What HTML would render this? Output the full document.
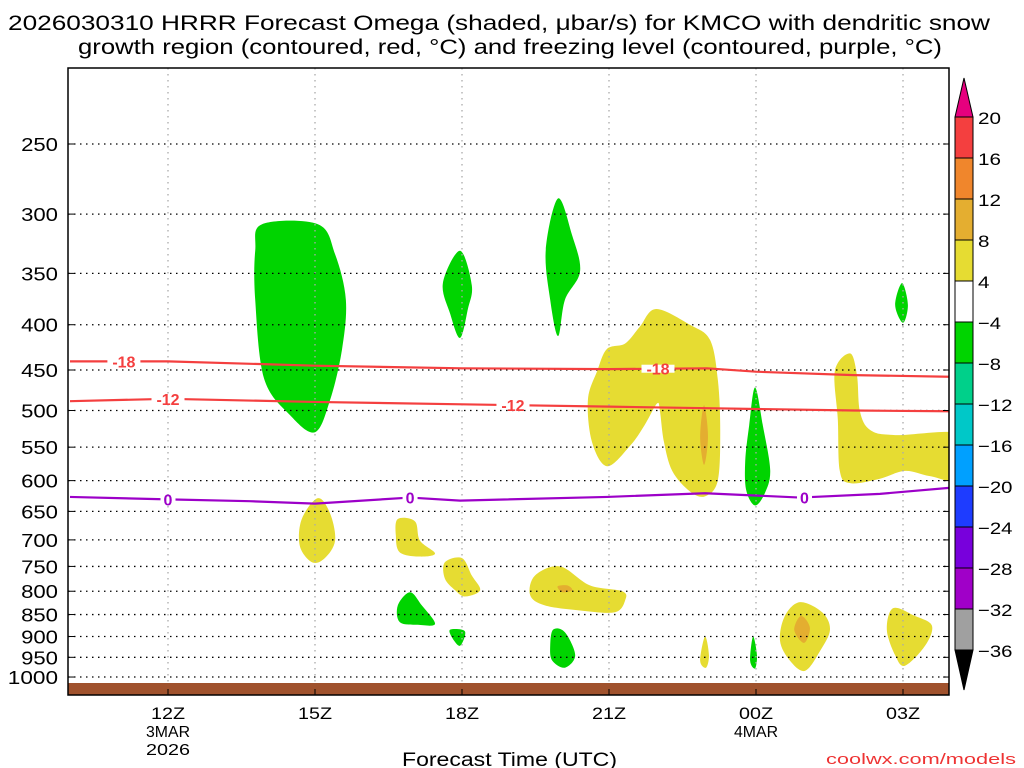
<!DOCTYPE html>
<html><head><meta charset="utf-8"><style>
html,body{margin:0;padding:0;background:#fff;width:1024px;height:768px;overflow:hidden}
svg{display:block;font-family:"Liberation Sans",sans-serif}
</style></head><body>
<svg id="chart" width="1024" height="768" viewBox="0 0 1024 768">
<text x="8" y="30" font-size="21" textLength="982" lengthAdjust="spacingAndGlyphs">2026030310 HRRR Forecast Omega (shaded, μbar/s) for KMCO with dendritic snow</text>
<text x="78" y="54" font-size="21" textLength="864" lengthAdjust="spacingAndGlyphs">growth region (contoured, red, °C) and freezing level (contoured, purple, °C)</text>
<g id="plot"></g>
<text x="402" y="766" font-size="19" textLength="215" lengthAdjust="spacingAndGlyphs">Forecast Time (UTC)</text>
<text x="826" y="764" font-size="15" textLength="190" lengthAdjust="spacingAndGlyphs" fill="#e33">coolwx.com/models</text>
<g id="cbar"></g>
</svg>
<script>
const pLevels=[250,300,350,400,450,500,550,600,650,700,750,800,850,900,950,1000];
const xTickHours=[12,15,18,21,24,27];
const xTickLabels=["12Z","15Z","18Z","21Z","00Z","03Z"];
const xSubLabels=[["3MAR","2026"],[],[],[],["4MAR"],[]];
const cbarLevels=[20,16,12,8,4,-4,-8,-12,-16,-20,-24,-28,-32,-36];
const cbarColors=["#f43f3f","#f0862c","#e4ae30","#e6dc32","#ffffff","#00d400","#00d08a","#00c8c8","#00a0ff","#1e3cff","#7800dc","#a000c8","#a0a0a0"];
// omega blobs: [hour, hPa]
const greenBlobs=[
[[13.92,308],[15.06,308],[15.41,333],[15.63,375],[15.55,427],[15.31,486],[15.0,529],[14.49,506],[13.96,460],[13.78,375],[13.78,330]],
[[17.96,330],[18.2,361],[18.12,384],[17.96,414],[17.76,389],[17.61,359]],
[[19.96,288],[20.24,316],[20.41,348],[20.1,375],[19.96,412],[19.8,375],[19.71,329]],
[[26.98,359],[27.1,380],[27.0,398],[26.84,380]],
[[23.98,471],[24.14,520],[24.29,584],[24.18,620],[23.98,640],[23.8,615],[23.78,570],[23.86,520]],
[[16.94,802],[17.18,830],[17.45,871],[17.1,873],[16.73,867],[16.69,830]],
[[17.76,884],[18.06,888],[17.96,922],[17.8,903]],
[[19.86,884],[20.1,890],[20.31,945],[20.1,976],[19.84,958],[19.8,922]],
[[23.94,900],[24.02,945],[23.98,978],[23.88,958]]
];
const yellowBlobs=[
[[21.96,384],[22.65,400],[23.06,416],[23.22,461],[23.27,526],[23.22,600],[22.96,625],[22.65,617],[22.29,585],[22.12,542],[22.04,501],[21.98,491],[21.73,519],[21.43,548],[20.96,578],[20.65,542],[20.57,486],[20.76,451],[20.96,426],[21.33,420],[21.63,402]],
[[25.92,431],[26.06,456],[26.12,501],[26.33,526],[26.84,533],[28.3,533],[28.3,600],[27.55,593],[27.04,585],[26.53,597],[25.92,604],[25.71,585],[25.67,512],[25.61,451]],
[[15.06,628],[15.31,654],[15.41,701],[15.2,734],[14.94,742],[14.69,711],[14.73,663]],
[[16.69,663],[17.04,667],[17.14,701],[17.45,725],[17.14,731],[16.73,723],[16.65,692]],
[[17.65,742],[18.0,734],[18.2,768],[18.37,798],[18.06,811],[17.86,798],[17.65,774]],
[[19.49,768],[20.0,750],[20.61,788],[21.27,800],[21.33,819],[21.12,845],[20.41,841],[19.69,830],[19.39,808]],
[[22.96,900],[23.04,945],[22.98,976],[22.86,958]],
[[24.9,823],[25.35,845],[25.51,884],[25.31,934],[25.0,984],[24.69,958],[24.49,910],[24.59,853]],
[[26.8,836],[27.24,853],[27.59,875],[27.45,922],[27.04,971],[26.84,945],[26.67,884]]
];
const orangeBlobs=[
[[22.94,493],[23.02,535],[22.94,576],[22.86,535]],
[[19.95,790],[20.15,788],[20.25,798],[20.05,802]],
[[24.92,853],[25.1,880],[24.98,915],[24.78,885]]
];
const contHours=[10,12,15,18,21,23,24,26,28];
const tm18=[440,440,445,448,449,448,452,456,458];
const tm12=[488,485,489,492,495,497,498,500,501];
const frzHours=[10,12,13.67,15,16.94,17.96,20.96,22.96,24.9,26.53,28];
const frzLevel=[626,630,633,637,627,632,626,620,627,621,611];

const X0=68,X1=949,Y0=68,Y1=695;
const x=h=>168+(h-12)*49;
const y=p=>144+Math.log(p/250)*384.5;
const NS="http://www.w3.org/2000/svg";
const plot=document.getElementById('plot');
function mk(tag,attrs,parent){const e=document.createElementNS(NS,tag);for(const k in attrs)e.setAttribute(k,attrs[k]);(parent||plot).appendChild(e);return e;}
const defs=mk('defs',{},document.getElementById('chart'));
const cp=mk('clipPath',{id:'clip'},defs);mk('rect',{x:X0,y:Y0,width:X1-X0,height:Y1-Y0},cp);
const g=mk('g',{'clip-path':'url(#clip)'});


function smooth(pts){
  const P=pts.map(d=>[x(d[0]),y(d[1])]);const n=P.length;let s=`M${P[0][0]},${P[0][1]}`;
  for(let i=0;i<n;i++){const p0=P[(i-1+n)%n],p1=P[i],p2=P[(i+1)%n],p3=P[(i+2)%n];
    s+=`C${p1[0]+(p2[0]-p0[0])/6},${p1[1]+(p2[1]-p0[1])/6} ${p2[0]-(p3[0]-p1[0])/6},${p2[1]-(p3[1]-p1[1])/6} ${p2[0]},${p2[1]}`;}
  return s+'Z';
}
yellowBlobs.forEach(b=>{const e=mk('path',{d:smooth(b),fill:'#e6dc32'},g);

});
orangeBlobs.forEach(b=>{const e=mk('path',{d:smooth(b),fill:'#e4ae30'},g);

});
greenBlobs.forEach(b=>{const e=mk('path',{d:smooth(b),fill:'#00d400'},g);

});
pLevels.forEach(p=>{const e=mk('line',{x1:X0,x2:X1,y1:y(p),y2:y(p),stroke:'#000','stroke-width':1.3,'stroke-dasharray':'1.5 4.5'},g);

});
xTickHours.forEach(h=>{const e=mk('line',{x1:x(h),x2:x(h),y1:Y0,y2:Y1,stroke:'#aaa','stroke-width':1.3,'stroke-dasharray':'1.5 4.5'},g);

});
function line(hs,ps,color,name){const e=mk('polyline',{points:hs.map((h,i)=>x(h)+','+y(ps[i])).join(' '),fill:'none',stroke:color,'stroke-width':2.2},g);

}
line(contHours,tm18,'#f43f3f','contour-minus18');
line(contHours,tm12,'#f43f3f','contour-minus12');
line(frzHours,frzLevel,'#9c00c8','freezing-level');
function interp(hs,ps,h){for(let i=0;i<hs.length-1;i++)if(h>=hs[i]&&h<=hs[i+1])return ps[i]+(ps[i+1]-ps[i])*(h-hs[i])/(hs[i+1]-hs[i]);return ps[0];}
function lbl(h,txt,hs,ps,color){const yy=y(interp(hs,ps,h));const xx=x(h);const w=txt.length*9+6;
const r=mk('rect',{x:xx-w/2,y:yy-4,width:w,height:8,fill:'#fff'},g);


const t=mk('text',{x:xx,y:yy+6,'font-size':16,'font-weight':'bold','text-anchor':'middle',fill:color},g);t.textContent=txt;

}
lbl(11.1,'-18',contHours,tm18,'#f43f3f');lbl(22.0,'-18',contHours,tm18,'#f43f3f');
lbl(12.0,'-12',contHours,tm12,'#f43f3f');lbl(19.04,'-12',contHours,tm12,'#f43f3f');
lbl(12.0,'0',frzHours,frzLevel,'#9c00c8');lbl(16.94,'0',frzHours,frzLevel,'#9c00c8');lbl(24.99,'0',frzHours,frzLevel,'#9c00c8');
const gr=mk('rect',{x:X0,y:683,width:X1-X0,height:Y1-683,fill:'#a0522d'},g);


const fr=mk('rect',{x:X0,y:Y0,width:X1-X0,height:Y1-Y0,fill:'none',stroke:'#000','stroke-width':1.5});


pLevels.forEach(p=>{const yy=y(p);
mk('line',{x1:X0,x2:X0+6,y1:yy,y2:yy,stroke:'#000'});mk('line',{x1:X1-6,x2:X1,y1:yy,y2:yy,stroke:'#000'});
const s=String(p);const t=mk('text',{x:61-s.length*13.3,y:yy+7,'font-size':18,textLength:s.length*13.3-3,lengthAdjust:'spacingAndGlyphs'});t.textContent=s;

});
xTickHours.forEach((h,i)=>{const xx=x(h);mk('line',{x1:xx,x2:xx,y1:Y1,y2:Y1-6,stroke:'#000'});
const t=mk('text',{x:xx-17,y:719,'font-size':17,textLength:34,lengthAdjust:'spacingAndGlyphs'});t.textContent=xTickLabels[i];


xSubLabels[i].forEach((s,j)=>{const u=mk('text',{x:xx-s.length*5.5,y:737+j*18,'font-size':16,textLength:s.length*11,lengthAdjust:'spacingAndGlyphs'});u.textContent=s;

});});
const cb=document.getElementById('cbar');const cx=955,cw=18,ctop=117,step=41;
const tri=mk('polygon',{points:`${cx},${ctop} ${cx+cw},${ctop} ${cx+cw/2},78`,fill:'#e6007e',stroke:'#000'},cb);


cbarColors.forEach((c,i)=>{const r=mk('rect',{x:cx,y:ctop+i*step,width:cw,height:step,fill:c,stroke:'#000','stroke-width':1},cb);

});
const bot=ctop+cbarColors.length*step;
const tri2=mk('polygon',{points:`${cx},${bot} ${cx+cw},${bot} ${cx+cw/2},690`,fill:'#000',stroke:'#000'},cb);


cbarLevels.forEach((v,i)=>{const s=v<0?'−'+(-v):String(v);const t=mk('text',{x:978,y:ctop+i*step+7,'font-size':17,textLength:s.length*11.5,lengthAdjust:'spacingAndGlyphs'},cb);t.textContent=s;

});
</script>
</body></html>
